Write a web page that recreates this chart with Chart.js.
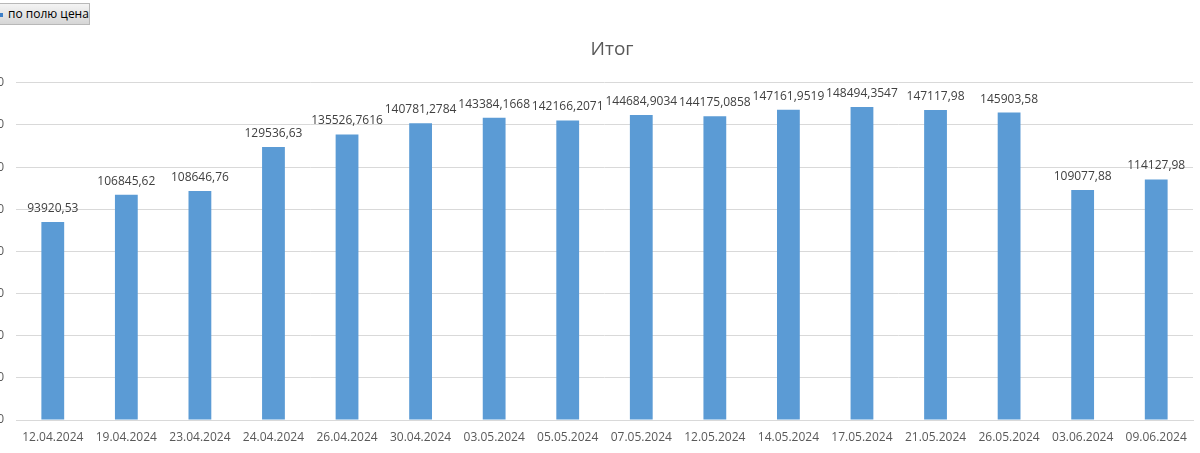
<!DOCTYPE html>
<html>
<head>
<meta charset="utf-8">
<script src="https://cdn.jsdelivr.net/npm/chart.js@4.4.1/dist/chart.umd.min.js"></script>
<style>
  html, body { margin: 0; padding: 0; background: #fff; overflow: hidden; }
  body { width: 1200px; height: 453px; position: relative; }
  #wrap { position: absolute; left: -60px; top: 0; width: 1344px; height: 453px; }
  #btn {
    position: absolute; left: -10px; top: 3px; width: 100px; height: 22px;
    background: linear-gradient(#f4f4f4, #d6d6d6);
    border: 1px solid #b8b8b8; box-sizing: border-box;
    font: 12px "Open Sans", sans-serif; color: #000;
    line-height: 20px; padding-left: 17px; z-index: 2;
  }
  #btn i { position: absolute; left: 9px; top: 9px; width: 3px; height: 4px; background: #3c7fc8; }
</style>
</head>
<body>
<div id="btn"><i></i>по полю цена</div>
<div id="wrap"><canvas id="chart" width="1344" height="453"></canvas></div>
<script>
const dates = ["12.04.2024", "19.04.2024", "23.04.2024", "24.04.2024", "26.04.2024", "30.04.2024",
  "03.05.2024", "05.05.2024", "07.05.2024", "12.05.2024", "14.05.2024", "17.05.2024",
  "21.05.2024", "26.05.2024", "03.06.2024", "09.06.2024"];
const totals = [93920.53, 106845.62, 108646.76, 129536.63, 135526.7616, 140781.2784,
  143384.1668, 142166.2071, 144684.9034, 144175.0858, 147161.9519, 148494.3547,
  147117.98, 145903.58, 109077.88, 114127.98];
const yTicks = { min: 0, max: 160000, step: 20000 };

// labels above bars, Excel-style comma decimals
const barLabels = {
  id: "barLabels",
  afterLayout(chart) {
    // centre the title on the whole canvas, not the padded area
    chart.titleBlock.right = chart.width;
  },
  afterDatasetsDraw(chart) {
    const ctx = chart.ctx;
    const meta = chart.getDatasetMeta(0);
    ctx.save();
    ctx.font = "12px 'Open Sans', sans-serif";
    ctx.fillStyle = "#404040";
    ctx.textAlign = "center";
    ctx.textBaseline = "alphabetic";
    meta.data.forEach((bar, i) => {
      const txt = String(totals[i]).replace(".", ",");
      ctx.fillText(txt, bar.x, bar.y - 10);
    });
    ctx.restore();
  }
};

new Chart(document.getElementById("chart"), {
  type: "bar",
  data: {
    labels: dates,
    datasets: [{
      label: "Итог",
      data: totals,
      backgroundColor: "#5b9bd5",
      borderWidth: 0,
      categoryPercentage: 1,
      barPercentage: 0.31
    }]
  },
  options: {
    responsive: false,
    animation: false,
    layout: { padding: { left: 0, right: 91, top: 0, bottom: 0 } },
    plugins: {
      legend: { display: false },
      tooltip: { enabled: false },
      title: {
        display: true,
        text: "Итог",
        color: "#595959",
        font: { family: "'Open Sans', sans-serif", size: 19, weight: "normal" },
        padding: { top: 38, bottom: 22 }
      }
    },
    scales: {
      x: {
        grid: { display: false, drawTicks: false },
        border: { display: true, color: "#d9d9d9" },
        ticks: {
          color: "#595959",
          font: { family: "'Open Sans', sans-serif", size: 12 },
          padding: 10,
          maxRotation: 0,
          autoSkip: false
        },
        afterFit: s => { s.height = 33; }
      },
      y: {
        min: yTicks.min,
        max: yTicks.max,
        grid: { color: "#d9d9d9", drawTicks: false },
        border: { display: false },
        ticks: {
          stepSize: yTicks.step,
          color: "#595959",
          font: { family: "'Open Sans', sans-serif", size: 12 },
          padding: 12
        },
        afterFit: s => { s.width = 76; }
      }
    }
  },
  plugins: [barLabels]
});
</script>
</body>
</html>
